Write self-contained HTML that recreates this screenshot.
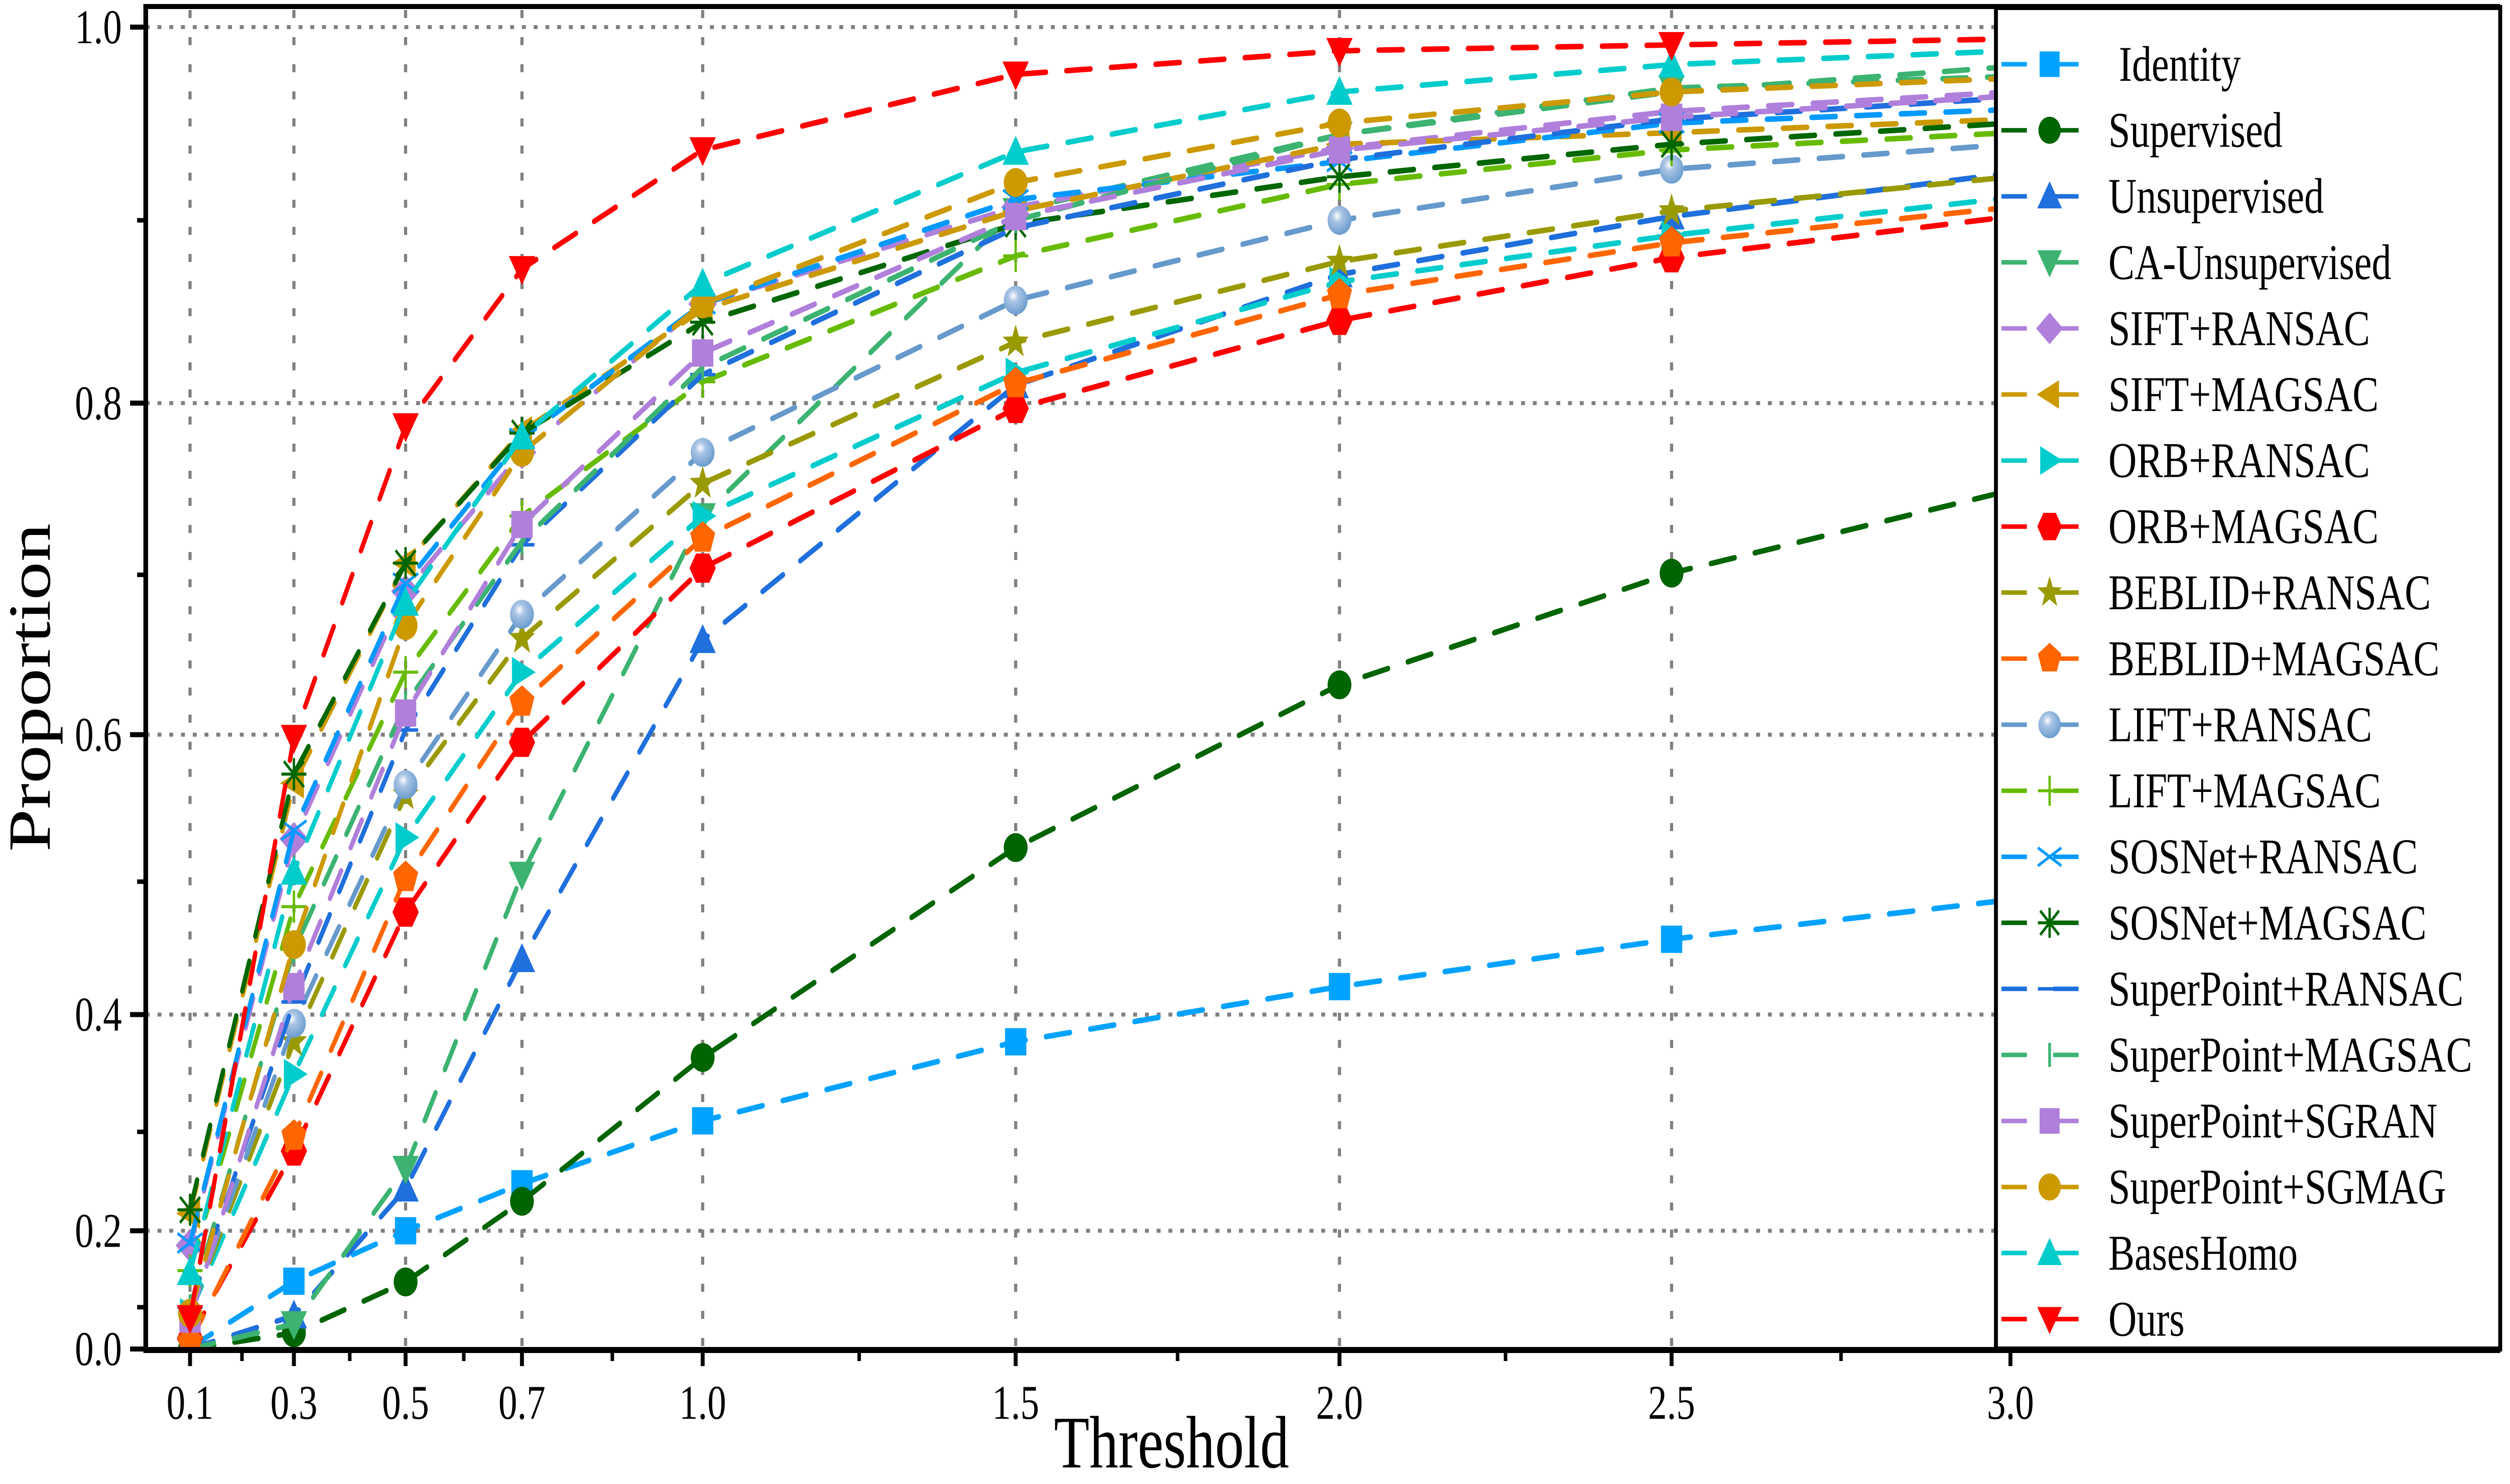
<!DOCTYPE html>
<html><head><meta charset="utf-8"><style>
html,body{margin:0;padding:0;background:#fff;overflow:hidden;width:100%;height:100%;}
svg{display:block;width:100vw;height:100vh;}
text{font-family:"Liberation Serif",serif;fill:#000;}
</style></head>
<body>
<svg id="chart" xmlns="http://www.w3.org/2000/svg" viewBox="0 0 6406 2957" preserveAspectRatio="none">
<defs>
<clipPath id="plotclip"><rect x="372" y="13" width="6009" height="2675"/></clipPath>
<radialGradient id="sphere" cx="0.4" cy="0.35" r="0.7"><stop offset="0" stop-color="#ffffff"/><stop offset="0.3" stop-color="#a9c4e4"/><stop offset="1" stop-color="#6699CC"/></radialGradient>
</defs>
<g id="grid"></g>
<g id="series" clip-path="url(#plotclip)"></g>
<g id="axes"></g>
<g id="legend"></g>
<text x="0" y="0" font-size="153" text-anchor="middle" transform="translate(127,1370) rotate(-90)">Proportion</text>
<text x="2990" y="2924" font-size="148" text-anchor="middle">Threshold</text>
</svg>
<script>
const thresholds=[0.1,0.3,0.5,0.7,1.0,1.5,2.0,2.5,3.0];
const xTickLabels=["0.1","0.3","0.5","0.7","1.0","1.5","2.0","2.5","3.0"];
const yTicks=[0.0,0.2,0.4,0.6,0.8,1.0];
const yTickLabels=["0.0","0.2","0.4","0.6","0.8","1.0"];
const yMinorTicks=[0.1,0.3,0.5,0.7,0.9];
const identity=[0.01,0.138,0.20,0.25,0.31,0.378,0.422,0.458,0.487];
const supervised=[0.0,0.053,0.137,0.232,0.365,0.524,0.632,0.701,0.75];
const unsupervised=[0.0,0.086,0.245,0.443,0.66,0.81,0.871,0.902,0.925];
const caUnsupervised=[0.0,0.071,0.265,0.505,0.735,0.905,0.945,0.969,0.975];
const siftRansac=[0.183,0.53,0.69,0.772,0.855,0.907,0.938,0.957,0.967];
const siftMagsac=[0.219,0.568,0.707,0.784,0.852,0.905,0.94,0.946,0.953];
const orbRansac=[0.09,0.351,0.531,0.64,0.735,0.817,0.867,0.892,0.912];
const orbMagsac=[0.04,0.282,0.478,0.595,0.704,0.797,0.846,0.88,0.902];
const beblidRansac=[0.09,0.378,0.56,0.661,0.754,0.834,0.878,0.905,0.923];
const beblidMagsac=[0.03,0.296,0.503,0.621,0.722,0.811,0.86,0.888,0.907];
const liftRansac=[0.09,0.393,0.567,0.676,0.772,0.857,0.9,0.927,0.94];
const liftMagsac=[0.152,0.482,0.64,0.735,0.812,0.881,0.919,0.937,0.946];
const sosnetRansac=[0.186,0.536,0.695,0.78,0.855,0.911,0.931,0.951,0.958];
const sosnetMagsac=[0.223,0.574,0.707,0.783,0.845,0.898,0.923,0.94,0.951];
const superpointRansac=[0.1,0.41,0.603,0.718,0.816,0.896,0.932,0.953,0.964];
const superpointMagsac=[0.1,0.45,0.62,0.72,0.82,0.9,0.945,0.967,0.98];
const superpointSgran=[0.08,0.422,0.614,0.73,0.828,0.902,0.937,0.954,0.965];
const superpointSgmag=[0.09,0.454,0.669,0.772,0.855,0.92,0.951,0.967,0.974];
const baseshomo=[0.15,0.507,0.683,0.781,0.866,0.936,0.967,0.981,0.988];
const ours=[0.082,0.598,0.787,0.874,0.937,0.976,0.988,0.991,0.994];
const seriesLabels=["Identity","Supervised","Unsupervised","CA-Unsupervised","SIFT+RANSAC","SIFT+MAGSAC","ORB+RANSAC","ORB+MAGSAC","BEBLID+RANSAC","BEBLID+MAGSAC","LIFT+RANSAC","LIFT+MAGSAC","SOSNet+RANSAC","SOSNet+MAGSAC","SuperPoint+RANSAC","SuperPoint+MAGSAC","SuperPoint+SGRAN","SuperPoint+SGMAG","BasesHomo","Ours"];
const seriesValues=[identity,supervised,unsupervised,caUnsupervised,siftRansac,siftMagsac,orbRansac,orbMagsac,beblidRansac,beblidMagsac,liftRansac,liftMagsac,sosnetRansac,sosnetMagsac,superpointRansac,superpointMagsac,superpointSgran,superpointSgmag,baseshomo,ours];
const seriesColors=["#00A2FF","#006400","#1F6FDD","#3CB371","#B07FDB","#CC9900","#00CCCC","#FF0000","#999900","#FF6600","#6699CC","#66BB00","#0099FF","#006600","#1F6FDD","#3CB371","#B07FDB","#CC9900","#00CCCC","#FF0000"];
const seriesMarkers=["square","circle","tri-up","tri-down","diamond","tri-left","tri-right","hexagon","star","pentagon","sphere","plus","cross","asterisk","hbar","vbar","square","circle","tri-up","tri-down"];

const NS="http://www.w3.org/2000/svg";
const X0=485,X1=5131,P=1.1;
function xScale(v){const a=Math.pow(0.1,P),b=Math.pow(3,P);return X0+(Math.pow(v,P)-a)/(b-a)*(X1-X0);}
function yScale(v){return 2688-2634*Math.pow(Math.max(v,0),1.5);}
function mk(tag,attrs,parent){const e=document.createElementNS(NS,tag);for(const k in attrs)e.setAttribute(k,attrs[k]);parent.appendChild(e);return e;}

const grid=document.getElementById('grid');
thresholds.forEach((t,i)=>{
  const l=mk('line',{x1:xScale(t),x2:xScale(t),y1:20,y2:2688,stroke:'#808080','stroke-width':8,'stroke-dasharray':'16 38'},grid);
  
  
});
yTicks.slice(1).forEach((v,i)=>{
  const l=mk('line',{x1:372,x2:5094,y1:yScale(v),y2:yScale(v),stroke:'#808080','stroke-width':8,'stroke-dasharray':'10 20'},grid);
  
  
});

function marker(type,cx,cy,color,parent,s){
  s=s||32;
  const g=mk('g',{},parent);
  const poly=pts=>mk('polygon',{points:pts.map(p=>(cx+p[0]*s)+','+(cy+p[1]*s)).join(' '),fill:color},g);
  const reg=(n,rot,r)=>{const p=[];for(let k=0;k<n;k++){const a=rot+k*2*Math.PI/n;p.push([r*Math.cos(a),r*Math.sin(a)]);}return poly(p);};
  switch(type){
    case 'square':mk('rect',{x:cx-s*0.85,y:cy-s*0.85,width:s*1.7,height:s*1.7,fill:color},g);break;
    case 'circle':mk('ellipse',{cx:cx,cy:cy,rx:s*0.95,ry:s*0.9,fill:color},g);break;
    case 'sphere':mk('ellipse',{cx:cx,cy:cy,rx:s*0.95,ry:s*0.9,fill:'url(#sphere)'},g);break;
    case 'tri-up':poly([[0,-1],[1.05,0.8],[-1.05,0.8]]);break;
    case 'tri-down':poly([[0,1],[1.05,-0.8],[-1.05,-0.8]]);break;
    case 'tri-left':poly([[-1.1,0],[0.8,-0.95],[0.8,0.95]]);break;
    case 'tri-right':poly([[1.1,0],[-0.8,-0.95],[-0.8,0.95]]);break;
    case 'diamond':poly([[0,-1.05],[1.15,0],[0,1.05],[-1.15,0]]);break;
    case 'hexagon':reg(6,0,1.05);break;
    case 'pentagon':reg(5,-Math.PI/2,1.05);break;
    case 'star':{const p=[];for(let k=0;k<10;k++){const a=-Math.PI/2+k*Math.PI/5;const r=k%2?0.45:1.1;p.push([r*Math.cos(a),r*Math.sin(a)]);}poly(p);break;}
    case 'plus':mk('path',{d:`M${cx-s} ${cy}H${cx+s}M${cx} ${cy-s}V${cy+s}`,stroke:color,'stroke-width':6,fill:'none'},g);break;
    case 'cross':mk('path',{d:`M${cx-s} ${cy-s*0.6}L${cx+s} ${cy+s*0.6}M${cx-s} ${cy+s*0.6}L${cx+s} ${cy-s*0.6}`,stroke:color,'stroke-width':6,fill:'none'},g);break;
    case 'asterisk':mk('path',{d:`M${cx-s} ${cy}H${cx+s}M${cx} ${cy-s}V${cy+s}M${cx-s*0.8} ${cy-s*0.8}L${cx+s*0.8} ${cy+s*0.8}M${cx-s*0.8} ${cy+s*0.8}L${cx+s*0.8} ${cy-s*0.8}`,stroke:color,'stroke-width':6,fill:'none'},g);break;
    case 'hbar':mk('line',{x1:cx-s,x2:cx+s,y1:cy,y2:cy,stroke:color,'stroke-width':7},g);break;
    case 'vbar':mk('line',{x1:cx,x2:cx,y1:cy-s*0.8,y2:cy+s*0.8,stroke:color,'stroke-width':7},g);break;
  }
  return g;
}

const seriesG=document.getElementById('series');
seriesValues.forEach((vals,si)=>{
  const g=mk('g',{},seriesG);
  
  
  const pts=vals.map((v,i)=>xScale(thresholds[i])+','+yScale(v)).join(' ');
  const pl=mk('polyline',{points:pts,fill:'none',stroke:seriesColors[si],'stroke-width':11,'stroke-dasharray':'62 52','stroke-linecap':'round'},g);
  
  
  vals.forEach((v,i)=>{
    const m=marker(seriesMarkers[si],xScale(thresholds[i]),yScale(v),seriesColors[si],g);
    
    
  });
});

const axes=document.getElementById('axes');
mk('line',{x1:366,x2:6381,y1:13,y2:13,stroke:'#000','stroke-width':10},axes);
const la=mk('line',{x1:372,x2:372,y1:8,y2:2694,stroke:'#000','stroke-width':12},axes);


const ba=mk('line',{x1:366,x2:6381,y1:2690,y2:2690,stroke:'#000','stroke-width':12},axes);


yTicks.forEach((v,i)=>{
  mk('line',{x1:332,x2:372,y1:yScale(v),y2:yScale(v),stroke:'#000','stroke-width':10},axes);
  const t=mk('text',{x:311,y:yScale(v)+32,'font-size':96,'text-anchor':'end'},axes);
  t.textContent=yTickLabels[i];
  
  
});
yMinorTicks.forEach(v=>{mk('line',{x1:350,x2:372,y1:yScale(v),y2:yScale(v),stroke:'#000','stroke-width':9},axes);});
thresholds.forEach((t,i)=>{
  const x=xScale(t);
  mk('line',{x1:x,x2:x,y1:2690,y2:2722,stroke:'#000','stroke-width':10},axes);
  if(i<thresholds.length-1){const xm=(x+xScale(thresholds[i+1]))/2;mk('line',{x1:xm,x2:xm,y1:2690,y2:2712,stroke:'#000','stroke-width':9},axes);}
  const lb=mk('text',{x:x,y:2827,'font-size':96,'text-anchor':'middle'},axes);
  lb.textContent=xTickLabels[i];
  
  
});

const legend=document.getElementById('legend');
mk('rect',{x:5094,y:15,width:1287,height:2673,fill:'#fff',stroke:'#000','stroke-width':10},legend);
seriesLabels.forEach((lab,i)=>{
  const cy=128+i*131.6;
  const e=mk('g',{},legend);
  
  
  mk('line',{x1:5108,x2:5173,y1:cy,y2:cy,stroke:seriesColors[i],'stroke-width':9},e);
  mk('line',{x1:5240,x2:5305,y1:cy,y2:cy,stroke:seriesColors[i],'stroke-width':9},e);
  marker(seriesMarkers[i],5231,cy,seriesColors[i],e,30);
  const t=mk('text',{x:i===0?5408:5381,y:cy+33,'font-size':100},e);
  t.textContent=lab;
});
</script>
</body></html>
